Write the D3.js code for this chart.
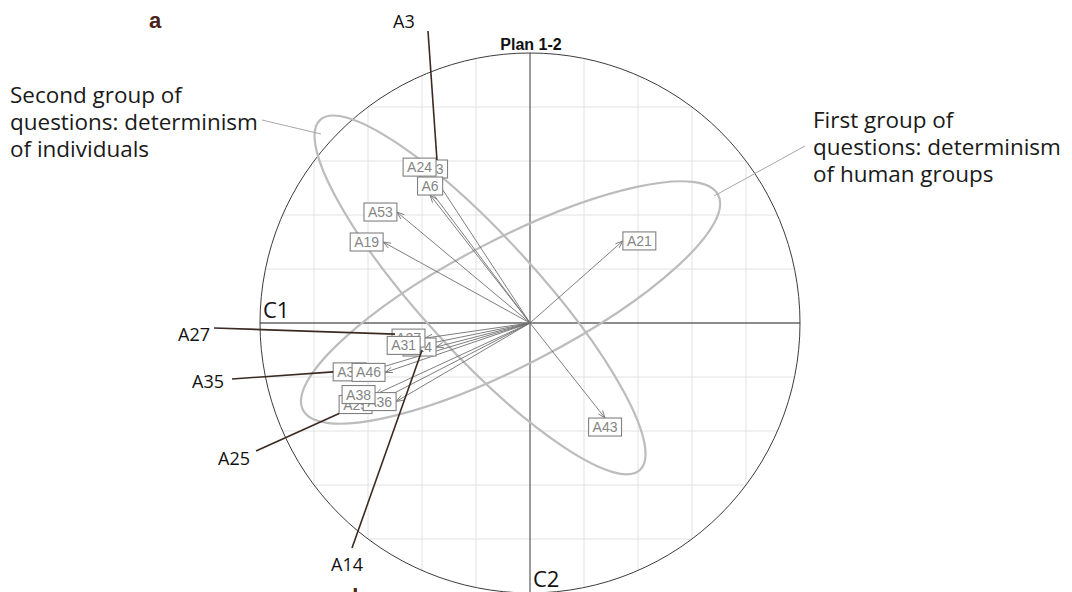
<!DOCTYPE html>
<html><head><meta charset="utf-8">
<script src="https://cdn.jsdelivr.net/npm/d3@7"></script>
<style>body{margin:0;background:#fff} svg{display:block}</style>
</head><body>
<svg id="chart" width="1072" height="592"></svg>
<script>
// ---- data (correlation-circle coordinates) ----
const variables = ["A3","A6","A14","A19","A21","A24","A25","A27","A31","A35","A36","A38","A43","A46","A53"];
const comp1 = [-0.352,-0.370,-0.348,-0.544,0.344,-0.409,-0.585,-0.389,-0.407,-0.607,-0.496,-0.574,0.278,-0.537,-0.493];
const comp2 = [0.537,0.474,-0.089,0.300,0.304,0.544,-0.302,-0.056,-0.083,-0.181,-0.291,-0.265,-0.352,-0.183,0.411];
const gridTicks = [-0.8,-0.6,-0.4,-0.2,0.2,0.4,0.6,0.8];
const axisNames = ["C1","C2"];
const plotTitle = "Plan 1-2";
const panelLetters = ["a","b"];
const groupLines = [["Second group of","questions: determinism","of individuals"],
                    ["First group of","questions: determinism","of human groups"]];
const groupCx = [-0.185, -0.072];
const groupCy = [0.104, 0.076];
const groupA = [0.878, 0.866];
const groupB = [0.215, 0.233];
const groupAngle = [-47.6, 27.4];
const calloutNames = ["A3","A27","A35","A25","A14"];

// ---- layout ----
const cx = 530, cy = 323, R = 270;
const x = d3.scaleLinear().domain([-1,1]).range([cx-R, cx+R]);
const y = d3.scaleLinear().domain([-1,1]).range([cy+R, cy-R]);
const svg = d3.select("#chart");

// grid clipped to circle
const g = svg.append("g");
gridTicks.forEach(t => {
  const h = Math.sqrt(1 - t*t);
  g.append("line").attr("x1", x(t)).attr("x2", x(t)).attr("y1", y(-h)).attr("y2", y(h))
    .attr("stroke","#e2e2e2").attr("stroke-width",1);
  g.append("line").attr("x1", x(-h)).attr("x2", x(h)).attr("y1", y(t)).attr("y2", y(t))
    .attr("stroke","#e2e2e2").attr("stroke-width",1);
});
// axes
g.append("line").attr("x1", x(-1)).attr("x2", x(1)).attr("y1", y(0)).attr("y2", y(0))
  .attr("stroke","#666").attr("stroke-width",1.3);
g.append("line").attr("x1", x(0)).attr("x2", x(0)).attr("y1", y(-1)).attr("y2", y(1))
  .attr("stroke","#666").attr("stroke-width",1.3);
// circle
g.append("ellipse").attr("cx", x(0)).attr("cy", y(0)).attr("rx", x(1)-x(0)).attr("ry", y(-1)-y(0))
  .attr("fill","none").attr("stroke","#3c3c3c").attr("stroke-width",1);

// group ellipses
groupCx.forEach((c,i) => {
  svg.append("ellipse")
    .attr("cx", x(c)).attr("cy", y(groupCy[i]))
    .attr("rx", x(groupA[i]) - x(0)).attr("ry", x(groupB[i]) - x(0))
    .attr("transform", `rotate(${-groupAngle[i]} ${x(c)} ${y(groupCy[i])})`)
    .attr("fill","none").attr("stroke","#bcbcbc").attr("stroke-width",2.2);
});

// arrows
const ag = svg.append("g");
variables.forEach((v,i) => {
  const x1 = x(comp1[i]), y1 = y(comp2[i]);
  ag.append("line").attr("x1", x(0)).attr("y1", y(0)).attr("x2", x1).attr("y2", y1)
    .attr("stroke","#707070").attr("stroke-width",0.9);
  const ang = Math.atan2(y1 - y(0), x1 - x(0));
  const L = 8, w = 0.35;
  const p = [[x1 - L*Math.cos(ang - w), y1 - L*Math.sin(ang - w)],[x1,y1],[x1 - L*Math.cos(ang + w), y1 - L*Math.sin(ang + w)]];
  ag.append("path").attr("d", d3.line()(p)).attr("fill","none").attr("stroke","#707070").attr("stroke-width",0.9);
});

// labels with boxes (ade4 circular placement)
const lg = svg.append("g");
const boxes = {};
variables.forEach((v,i) => {
  const xr = comp1[i], yr = comp2[i];
  const px = x(xr), py = y(yr);
  const t = lg.append("text").text(v).attr("font-family","Liberation Sans, Arial, sans-serif")
    .attr("font-size",14).attr("fill","#858585").attr("text-anchor","middle");
  const tw = t.node().getComputedTextLength();
  const bw = tw + 8, bh = 18;
  let bx, by;
  if (xr > yr && xr > -yr) { bx = px; by = py - bh/2; }
  else if (xr > yr && xr <= -yr) { bx = px - bw/2; by = py; }
  else if (xr <= yr && xr <= -yr) { bx = px - bw; by = py - bh/2; }
  else { bx = px - bw/2; by = py - bh; }
  lg.insert("rect", () => t.node()).attr("x", bx).attr("y", by).attr("width", bw).attr("height", bh)
    .attr("fill","#fff").attr("stroke","#808080").attr("stroke-width",1.1);
  t.attr("x", bx + bw/2).attr("y", by + bh/2 + 5);
  boxes[v] = {x: bx, y: by, w: bw, h: bh};
});

// title
svg.append("text").attr("x", x(0) + 1).attr("y", 50).attr("text-anchor","middle")
  .attr("font-family","Liberation Sans, Arial, sans-serif").attr("font-weight","bold")
  .attr("font-size",16).attr("fill","#111").text(plotTitle);

// axis names
const annFont = "Open Sans, sans-serif";
svg.append("text").attr("x", x(-1) + 3).attr("y", y(0) - 5).attr("font-family", annFont)
  .attr("font-size",22).attr("fill","#111").text(axisNames[0]);
svg.append("text").attr("x", x(0) + 3).attr("y", 587).attr("font-family", annFont)
  .attr("font-size",22).attr("fill","#111").text(axisNames[1]);

// panel letters
svg.append("text").attr("x", 155).attr("y", 28).attr("text-anchor","middle")
  .attr("font-family","Liberation Sans, Arial, sans-serif").attr("font-weight","bold")
  .attr("font-size",22).attr("fill","#4a2318").text(panelLetters[0]);
svg.append("text").attr("x", 359).attr("y", 604).attr("text-anchor","middle")
  .attr("font-family","Liberation Sans, Arial, sans-serif").attr("font-weight","bold")
  .attr("font-size",22).attr("fill","#4a2318").text(panelLetters[1]);

// group text blocks
const probe = svg.append("text").attr("font-family", annFont).attr("font-size", 20).text(groupLines[0][1]);
const fs = 20 * 248 / probe.node().getComputedTextLength();
probe.remove();
const blockPos = [[10, 103], [813, 128]];
groupLines.forEach((lines, k) => {
  lines.forEach((s, j) => {
    svg.append("text").attr("x", blockPos[k][0]).attr("y", blockPos[k][1] + j*27)
      .attr("font-family", annFont).attr("font-size", fs).attr("fill","#1a1a1a").text(s);
  });
});
// group pointer lines
svg.append("line").attr("x1", 262).attr("y1", 120).attr("x2", 321).attr("y2", 134)
  .attr("stroke","#a8a8a8").attr("stroke-width",1);
svg.append("line").attr("x1", 805).attr("y1", 146).attr("x2", 714).attr("y2", 196)
  .attr("stroke","#a8a8a8").attr("stroke-width",1);

// callouts for hidden labels
const brown = "#3b2a22";
const calloutText = {A3:[393,28], A27:[178,341], A35:[192,388], A25:[218,465], A14:[331,571]};
const calloutEnd = {
  A3: b => [b.x + b.w/2 + 2, b.y],
  A27: b => [b.x + 3, b.y + b.h/2 - 4],
  A35: b => [b.x, b.y + b.h/2],
  A25: b => [b.x, b.y + b.h],
  A14: b => [b.x + 19, b.y + b.h/2 + 3]
};
const calloutStart = {A3:[428,31], A27:[214,328], A35:[232,379], A25:[256,451], A14:[352,548]};
calloutNames.forEach(n => {
  const e = calloutEnd[n](boxes[n]);
  const s = calloutStart[n];
  svg.append("line").attr("x1", s[0]).attr("y1", s[1]).attr("x2", e[0]).attr("y2", e[1])
    .attr("stroke", brown).attr("stroke-width",1.6);
  svg.append("text").attr("x", calloutText[n][0]).attr("y", calloutText[n][1])
    .attr("font-family", annFont).attr("font-size",18).attr("fill","#111").text(n);
});
</script>
</body></html>
